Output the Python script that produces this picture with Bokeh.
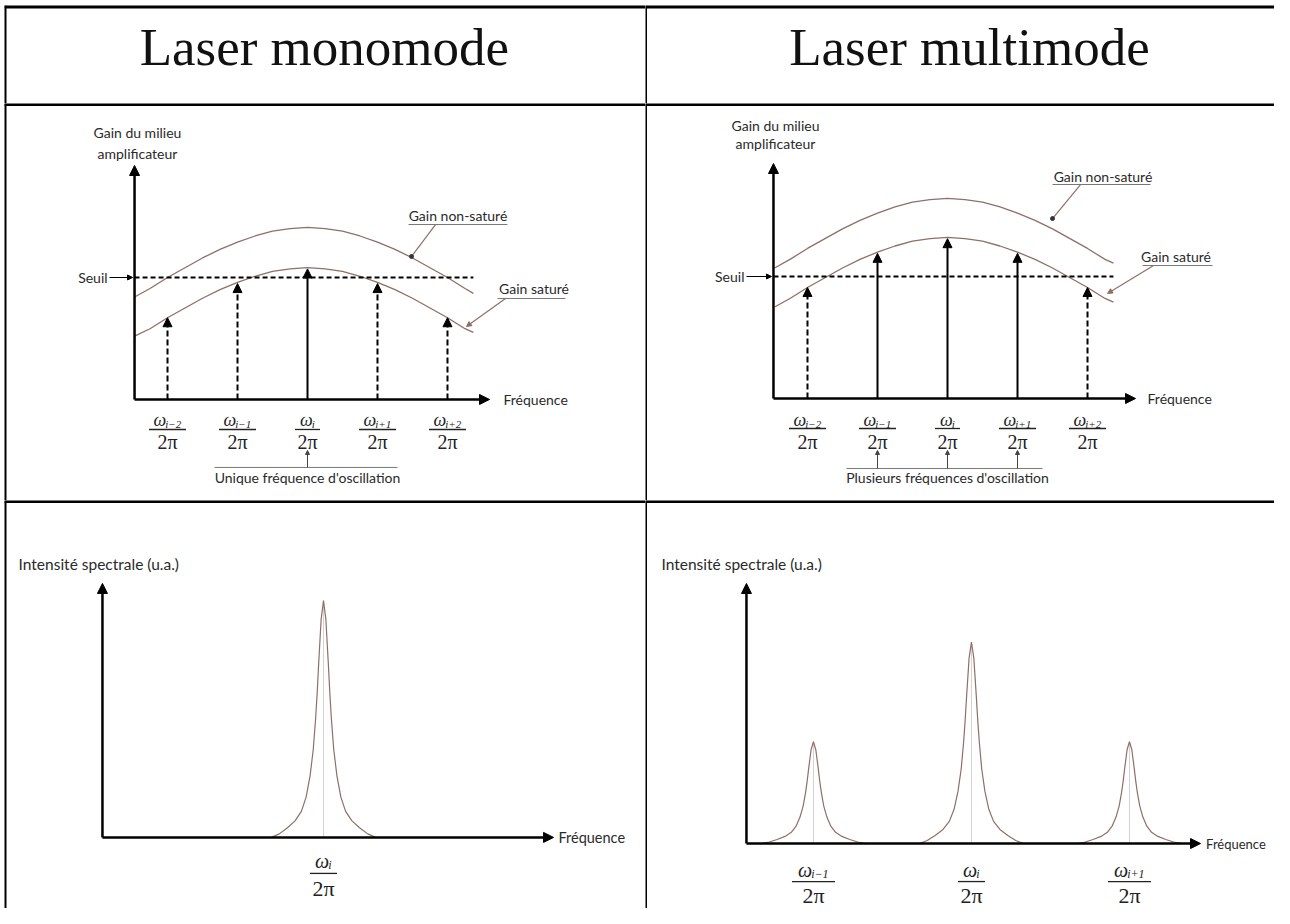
from bokeh.plotting import figure
from bokeh.layouts import column, row
from bokeh.models import Range1d, Arrow, NormalHead, Span, Spacer
from bokeh.core.properties import value
from bokeh.embed import file_html
from bokeh.resources import INLINE

# ---------------- data ----------------
TITLES = ["Laser monomode", "Laser multimode"]
MODE_K = [-2, -1, 0, 1, 2]
MODE_SUBS = ["i\u22122", "i\u22121", "i", "i+1", "i+2"]
THRESHOLD = 1.0

CURVE_K = [-2.47, -2.25, -2.0, -1.75, -1.5, -1.25, -1.0, -0.75, -0.5, -0.25, 0.0,
           0.25, 0.5, 0.75, 1.0, 1.25, 1.5, 1.75, 2.0, 2.25, 2.37]
GAIN_UNSAT_MONO = [0.84, 0.91, 1.00, 1.08, 1.16, 1.23, 1.29, 1.34, 1.38, 1.40, 1.41,
                   1.40, 1.38, 1.34, 1.29, 1.23, 1.16, 1.08, 1.00, 0.91, 0.87]
GAIN_SAT_MONO = [0.52, 0.58, 0.67, 0.75, 0.83, 0.90, 0.96, 1.01, 1.05, 1.07, 1.08,
                 1.07, 1.05, 1.01, 0.96, 0.90, 0.83, 0.75, 0.67, 0.58, 0.55]
GAIN_UNSAT_MULTI = [1.07, 1.14, 1.23, 1.31, 1.39, 1.46, 1.52, 1.57, 1.61, 1.63, 1.64,
                    1.63, 1.61, 1.57, 1.52, 1.46, 1.39, 1.31, 1.23, 1.14, 1.11]
GAIN_SAT_MULTI = [0.75, 0.82, 0.91, 0.99, 1.07, 1.14, 1.20, 1.25, 1.29, 1.31, 1.32,
                  1.31, 1.29, 1.25, 1.20, 1.14, 1.07, 0.99, 0.91, 0.82, 0.79]
MODE_GAIN_MONO = [0.67, 0.95, 1.07, 0.95, 0.67]
MODE_GAIN_MULTI = [0.91, 1.19, 1.31, 1.19, 0.91]

SPEC_MONO_K = [0]
SPEC_MONO_SUBS = ["i"]
SPEC_MONO_I = [1.0]
SPEC_MULTI_K = [-1, 0, 1]
SPEC_MULTI_SUBS = ["i\u22121", "i", "i+1"]
SPEC_MULTI_I = [0.43, 0.85, 0.43]

LINE_DX = [0.0, 0.015, 0.03, 0.04, 0.05, 0.065, 0.085, 0.11, 0.14, 0.18, 0.23, 0.28, 0.33]
LINE_SHAPE = [1.0, 0.92, 0.74, 0.61, 0.50, 0.37, 0.26, 0.17, 0.11, 0.07, 0.04, 0.015, 0.0]

# ---------------- style / layout ----------------
W_LEFT, W_RIGHT = 641, 629
H_TITLE, H_GAIN, H_SPEC = 98, 397, 408
CURVE_COLOR = "#8f6f68"
TXT_COLOR = "#2a2a2a"
LABEL_FONT = value("Lato")
SERIF = value("Liberation Serif")
GPX_X, GPX_Y = 70.0, 122.0        # gain panels: pixels per unit
SPX_X, SPX_Y = 158.0, 237.0       # spectrum panels: pixels per unit

CHAR_W = {"i": 0.30, "\u2212": 0.68, "+": 0.68, "1": 0.5, "2": 0.5}


def make_fig(w, h, xr, yr, top_w, left_w):
    p = figure(width=w, height=h, x_range=Range1d(*xr), y_range=Range1d(*yr),
               x_axis_type=None, y_axis_type=None, toolbar_location=None, tools="",
               output_backend="svg", min_border=0)
    p.grid.visible = False
    p.outline_line_color = None
    p.background_fill_color = "white"
    p.border_fill_color = "white"
    p.add_layout(Span(location=yr[1], dimension="width", line_color="black", line_width=top_w))
    p.add_layout(Span(location=xr[0], dimension="height", line_color="black", line_width=left_w))
    return p


def arrow(p, x0, y0, x1, y1, lw=2.0, size=9, dash="solid", color="black"):
    p.add_layout(Arrow(end=NormalHead(size=size, fill_color=color, line_color=color, line_width=1),
                       x_start=x0, y_start=y0, x_end=x1, y_end=y1,
                       line_width=lw, line_color=color, line_dash=dash))


def label(p, x, y, txt, size="14px", align="center", baseline="middle", font=LABEL_FONT,
          color=TXT_COLOR, style="normal", xo=0, yo=0):
    p.text(x=[x], y=[y], text=[txt], text_font=font, text_font_size=size, text_align=align,
           text_baseline=baseline, text_color=color, text_font_style=style, x_offset=xo, y_offset=yo)


def fraction(p, k, sub, py, fs_num, fs_sub, fs_den, num_dy, bar_dy, den_dy, bar_w):
    w_om = 0.66 * fs_num
    w_sub = sum(CHAR_W.get(c, 0.5) for c in sub) * fs_sub
    x0 = -(w_om + w_sub) / 2
    label(p, k, 0, "\u03c9", size=f"{fs_num}px", align="left", font=SERIF, color="#222",
          style="italic", xo=x0, yo=num_dy)
    label(p, k, 0, sub, size=f"{fs_sub}px", align="left", font=SERIF, color="#222",
          style="italic", xo=x0 + w_om, yo=num_dy + 4)
    p.rect(x=[k], y=[-bar_dy / py], width=[bar_w], height=[1.3], width_units="screen",
           height_units="screen", fill_color="#222", line_color=None)
    label(p, k, 0, "2\u03c0", size=f"{fs_den}px", font=SERIF, color="#222", yo=den_dy)


# ---------------- title row ----------------
t_left = make_fig(W_LEFT, H_TITLE, (0, 1), (0, 1), 6, 4)
label(t_left, 0.499, 0.577, TITLES[0], size="53px", font=SERIF, color="#111")
t_right = make_fig(W_RIGHT, H_TITLE, (0, 1), (0, 1), 6, 3)
label(t_right, 0.515, 0.577, TITLES[1], size="53px", font=SERIF, color="#111")


# ---------------- gain panels ----------------
def gain_panel(w, xr, yr, left_w, unsat, sat, mode_gain, pos):
    p = make_fig(w, H_GAIN, xr, yr, 5, left_w)
    x0, xend, ytop = pos["axis"]
    p.line(CURVE_K, unsat, line_color=CURVE_COLOR, line_width=1.3)
    p.line(CURVE_K, sat, line_color=CURVE_COLOR, line_width=1.3)
    p.line([x0, CURVE_K[-1]], [THRESHOLD, THRESHOLD], line_color="black", line_width=2,
           line_dash="5 3")
    arrow(p, x0, 0, xend, 0, lw=2.5, size=10)
    arrow(p, x0, 0, x0, ytop, lw=2.5, size=10)
    gx, gy1, gy2 = pos["gain_label"]
    label(p, gx, gy1, "Gain du milieu")
    label(p, gx, gy2, "amplificateur")
    label(p, pos["freq_x"], 0, "Fréquence", align="left")
    label(p, x0 - pos["seuil_gap"] / GPX_X, THRESHOLD, "Seuil", align="right")
    arrow(p, x0 - (pos["seuil_gap"] - 2) / GPX_X, THRESHOLD, x0 - 2 / GPX_X, THRESHOLD, lw=1.2, size=5)
    ol0, ol1, oly, otip, oty = pos["osc"]
    for k, g, sub in zip(MODE_K, mode_gain, MODE_SUBS):
        osc = g >= THRESHOLD
        arrow(p, k, 0, k, g, lw=2, size=9, dash="solid" if osc else "6 3")
        fraction(p, k, sub, GPX_Y, 18, 11, 20, 21, 30, 43, 25 if sub == "i" else 37)
        if osc:
            arrow(p, k, oly, k, otip, lw=1, size=4, color="#444")
    p.line([ol0, ol1], [oly, oly], line_color="#777", line_width=1)
    label(p, 0, oty, pos["osc_text"])
    for (tx, ty, txt, ux0, ux1, uy, lx0, lx1, ly1, dot) in pos["leaders"]:
        label(p, tx, ty, txt)
        p.line([ux0, ux1], [uy, uy], line_color="#777", line_width=1)
        if dot:
            p.line([lx0, lx1], [uy, ly1], line_color=CURVE_COLOR, line_width=1.2)
            p.scatter([lx1], [ly1], size=4, color="#333")
        else:
            arrow(p, lx0, uy, lx1, ly1, lw=1.2, size=5, color=CURVE_COLOR)
    return p


g_left = gain_panel(
    W_LEFT, (-4.329, 4.829), (-0.828, 2.426), 4,
    GAIN_UNSAT_MONO, GAIN_SAT_MONO, MODE_GAIN_MONO,
    dict(axis=(-2.471, 2.60, 1.918), gain_label=(-2.43, 2.19, 2.02), freq_x=2.8, seuil_gap=27,
         osc=(-1.329, 1.286, -0.557, -0.418, -0.639), osc_text="Unique fréquence d'oscillation",
         leaders=[(2.15, 1.508, "Gain non-saturé", 1.443, 2.857, 1.434, 1.829, 1.486, 1.172, True),
                  (3.236, 0.91, "Gain saturé", 2.714, 3.686, 0.828, 2.829, 2.271, 0.598, False)]))
g_right = gain_panel(
    W_RIGHT, (-4.314, 4.671), (-0.836, 2.418), 3,
    GAIN_UNSAT_MULTI, GAIN_SAT_MULTI, MODE_GAIN_MULTI,
    dict(axis=(-2.486, 2.686, 1.926), gain_label=(-2.457, 2.238, 2.09), freq_x=2.857, seuil_gap=29,
         osc=(-1.443, 1.357, -0.574, -0.426, -0.648), osc_text="Plusieurs fréquences d'oscillation",
         leaders=[(2.221, 1.82, "Gain non-saturé", 1.5, 2.9, 1.754, 1.9, 1.5, 1.475, True),
                  (3.264, 1.164, "Gain saturé", 2.786, 3.786, 1.09, 2.943, 2.286, 0.861, False)]))


# ---------------- spectrum panels ----------------
def spec_panel(w, xr, yr, left_w, ks, intens, subs, pos):
    p = make_fig(w, H_SPEC, xr, yr, 5, left_w)
    x0, xend, ytop = pos["axis"]
    nd, bd, dd = pos["frac"]
    for k, a, sub in zip(ks, intens, subs):
        xs = [k - d for d in reversed(LINE_DX)] + [k + d for d in LINE_DX[1:]]
        ys = [a * s for s in reversed(LINE_SHAPE)] + [a * s for s in LINE_SHAPE[1:]]
        p.segment(x0=[k], y0=[0], x1=[k], y1=[a], line_color="#d2d2d2", line_width=1)
        p.line(xs, ys, line_color=CURVE_COLOR, line_width=1.2)
        fraction(p, k, sub, SPX_Y, 20, 12, 22, nd, bd, dd, 27 if sub == "i" else 43)
    arrow(p, x0, 0, xend, 0, lw=2.5, size=10)
    arrow(p, x0, 0, x0, ytop, lw=2.5, size=10)
    label(p, pos["freq_x"], 0, "Fréquence", size=pos["freq_fs"], align="left")
    label(p, pos["ylab"][0], pos["ylab"][1], "Intensité spectrale (u.a.)", size="15.5px", align="left")
    return p


s_left = spec_panel(W_LEFT, (-2.019, 2.038), (-0.300, 1.422), 4,
                    SPEC_MONO_K, SPEC_MONO_I, SPEC_MONO_SUBS,
                    dict(axis=(-1.399, 1.456, 1.072), freq_x=1.487, freq_fs="14.5px",
                         ylab=(-1.93, 1.156), frac=(24, 36, 51)))
s_right = spec_parent = spec_panel(W_RIGHT, (-2.063, 1.918), (-0.274, 1.447), 3,
                     SPEC_MULTI_K, SPEC_MULTI_I, SPEC_MULTI_SUBS,
                     dict(axis=(-1.424, 1.45, 1.097), freq_x=1.485, freq_fs="13px",
                          ylab=(-1.962, 1.181), frac=(26, 38, 52)))

grid = column(Spacer(height=5, width=10),
              row(t_left, t_right), row(g_left, g_right), row(s_left, s_right))
layout = row(Spacer(width=4, height=10), grid)

with open("out.html", "w") as f:
    f.write(file_html(layout, INLINE))
